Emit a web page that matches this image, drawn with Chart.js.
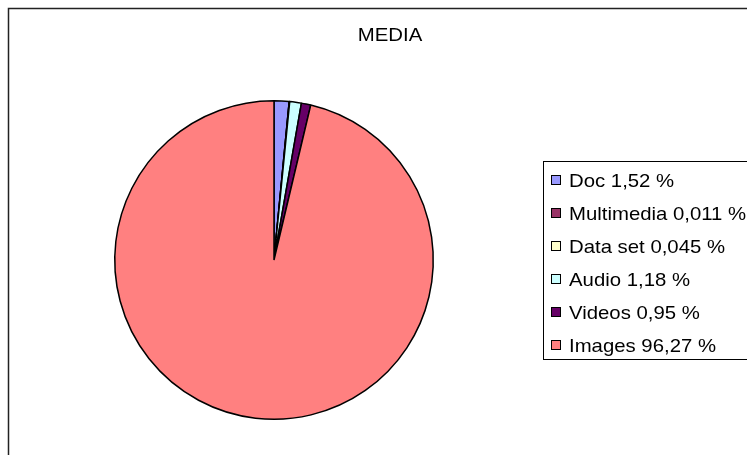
<!DOCTYPE html>
<html>
<head>
<meta charset="utf-8">
<script src="https://cdn.jsdelivr.net/npm/chart.js@4/dist/chart.umd.min.js"></script>
<style>
  html, body { margin: 0; padding: 0; background: #fff; }
  canvas { display: block; }
</style>
</head>
<body>
<canvas id="myChart" width="747" height="455"></canvas>
<script>
// Chart data
const categories = ['Doc', 'Multimedia', 'Data set', 'Audio', 'Videos', 'Images'];
const shares = [1.52, 0.011, 0.045, 1.18, 0.95, 96.27];
const sliceColors = ['#9999FF', '#993366', '#FFFFCC', '#CCFFFF', '#660066', '#FF8080'];
const chartTitle = 'MEDIA';

const fmt = v => v.toString().replace('.', ',') + ' %';

// text looks horizontally stretched in the original, so draw it scaled
const drawText = (ctx, text, x, y, align) => {
  const sx = 1.15;
  ctx.save();
  ctx.translate(x, y);
  ctx.scale(sx, 1);
  ctx.textAlign = align;
  ctx.textBaseline = 'alphabetic';
  ctx.fillText(text, 0, 0);
  ctx.restore();
};

// frame, title and legend box drawn by hand
const decorations = {
  id: 'decorations',
  beforeDraw(chart) {
    const ctx = chart.ctx;
    ctx.save();
    ctx.fillStyle = '#fff';
    ctx.fillRect(0, 0, chart.width, chart.height);
    ctx.strokeStyle = '#222';
    ctx.lineWidth = 1.5;
    ctx.strokeRect(8.5, 8.5, 900, 600);
    ctx.restore();
  },
  afterDraw(chart) {
    const ctx = chart.ctx;
    const ds = chart.data.datasets[0];
    ctx.save();
    ctx.fillStyle = '#000';
    ctx.font = '17.7px "Liberation Sans", Arial, sans-serif';
    drawText(ctx, chartTitle, 390, 41, 'center');

    // legend
    ctx.strokeStyle = '#000';
    ctx.lineWidth = 1;
    ctx.strokeRect(543.5, 161.5, 400, 198);
    chart.data.labels.forEach((label, i) => {
      const base = 187 + i * 33;
      ctx.fillStyle = ds.backgroundColor[i];
      ctx.fillRect(551.5, base - 11.5, 9, 9);
      ctx.strokeStyle = '#000';
      ctx.strokeRect(551.5, base - 11.5, 9, 9);
      ctx.fillStyle = '#000';
      drawText(ctx, label + ' ' + fmt(ds.data[i]), 569, base, 'left');
    });
    ctx.restore();
  }
};

const ctx = document.getElementById('myChart').getContext('2d');
const myChart = new Chart(ctx, {
  type: 'pie',
  data: {
    labels: categories,
    datasets: [{
      data: shares,
      backgroundColor: sliceColors,
      borderColor: '#000',
      borderWidth: 1.5
    }]
  },
  options: {
    responsive: false,
    animation: false,
    layout: {
      padding: { left: 114, top: 100, right: 313, bottom: 35 }
    },
    plugins: {
      legend: { display: false },
      title: { display: false },
      tooltip: { enabled: false }
    }
  },
  plugins: [decorations]
});
</script>
</body>
</html>
